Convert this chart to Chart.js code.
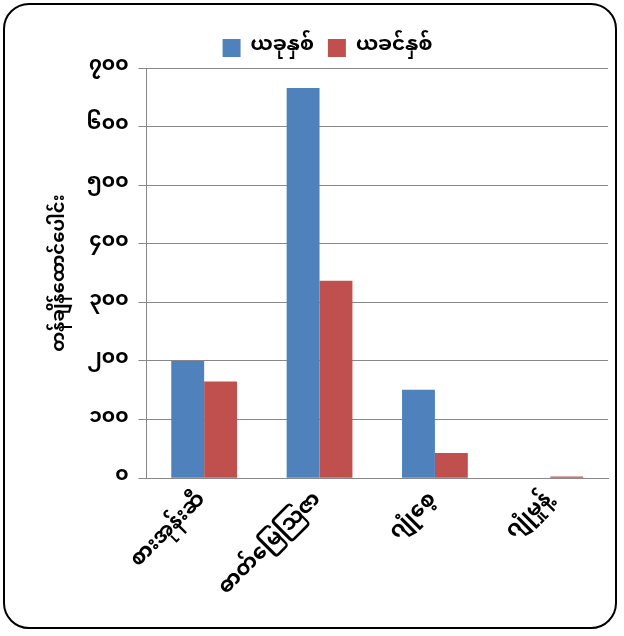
<!DOCTYPE html>
<html>
<head>
<meta charset="utf-8">
<script src="https://cdn.jsdelivr.net/npm/chart.js@4/dist/chart.umd.min.js"></script>
<style>
body{margin:0;background:#fff;}
#frame{position:absolute;left:3px;top:3px;width:614px;height:626px;border:2px solid #000;border-radius:26px;box-sizing:border-box;}
#wrap{position:absolute;left:10px;top:24px;width:604px;height:600px;}
</style>
</head>
<body>
<div id="frame"></div>
<div id="wrap"><canvas id="mainChart" width="604" height="600"></canvas></div>
<script>
var categories = ['စားအုန်းဆီ', 'ဓာတ်မြေဩဇာ', 'ဂျုံစေ့', 'ဂျုံမှုန့်'];
var thisYear = [200, 666, 151, 0];
var lastYear = [165, 337, 43, 3];
var seriesNames = ['ယခုနှစ်', 'ယခင်နှစ်'];
var yTitle = 'တန်ချိန်ထောင်ပေါင်း';
var myDigits = ['၀','၁','၂','၃','၄','၅','၆','၇','၈','၉'];

function toMyanmar(n){
    return String(n).replace(/[0-9]/g, function(d){ return myDigits[+d]; });
}

var font = "'Noto Sans Myanmar','Padauk','DejaVu Sans',sans-serif";

var ctx = document.getElementById('mainChart').getContext('2d');
var mainChart = new Chart(ctx, {
    type: 'bar',
    data: {
        labels: categories,
        datasets: [{
            label: seriesNames[0],
            data: thisYear,
            backgroundColor: '#4F81BD',
            borderWidth: 0,
            categoryPercentage: 0.57,
            barPercentage: 1
        }, {
            label: seriesNames[1],
            data: lastYear,
            backgroundColor: '#C0504D',
            borderWidth: 0,
            categoryPercentage: 0.57,
            barPercentage: 1
        }]
    },
    options: {
        responsive: false,
        animation: false,
        layout: {padding: {left: 37, right: 6, bottom: 19}},
        plugins: {
            legend: {
                position: 'top',
                labels: {boxWidth: 18, boxHeight: 18, padding: 14, color: '#000', font: {family: font, size: 20, weight: 'bold'}}
            },
            tooltip: {enabled: false}
        },
        scales: {
            x: {
                grid: {display: false, drawTicks: true, tickLength: 8},
                border: {color: '#888', width: 1},
                ticks: {color: '#000', maxRotation: 45, minRotation: 45, font: {family: font, size: 21, weight: 'bold'}}
            },
            y: {
                min: 0, max: 700,
                grid: {color: '#888', tickLength: 8},
                border: {color: '#888'},
                ticks: {stepSize: 100, color: '#000', padding: 10,
                    font: {family: font, size: 20, weight: 'bold'},
                    callback: function(v){ return toMyanmar(v); }},
                title: {display: true, text: yTitle, color: '#000', font: {family: font, size: 18, weight: 'bold'}}
            }
        }
    }
});
</script>
</body>
</html>
